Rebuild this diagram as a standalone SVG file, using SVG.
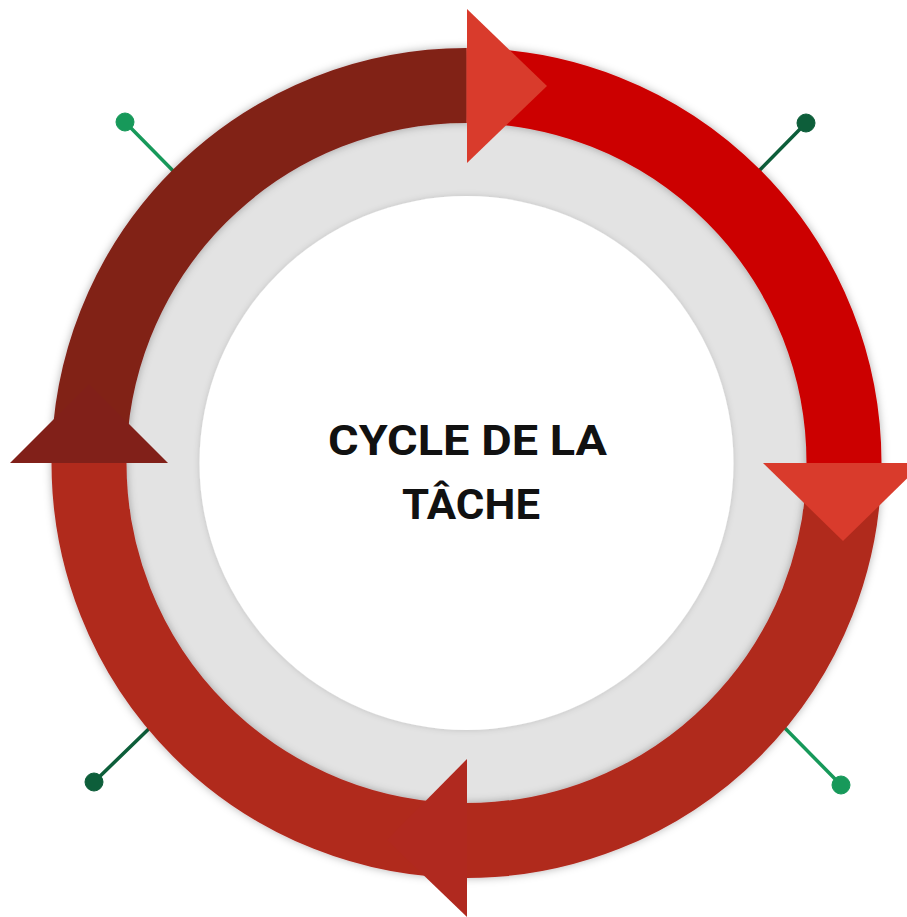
<svg xmlns="http://www.w3.org/2000/svg" width="907" height="917" viewBox="0 0 907 917">
<defs>
<filter id="sh" x="-20%" y="-20%" width="140%" height="140%">
<feDropShadow dx="0" dy="0" stdDeviation="4" flood-color="#000" flood-opacity="0.3"/>
</filter>
<filter id="sh2" x="-20%" y="-20%" width="140%" height="140%">
<feDropShadow dx="0" dy="0" stdDeviation="3" flood-color="#000" flood-opacity="0.15"/>
</filter>
<style>
.band{fill:none;stroke-width:75;stroke-linecap:butt}
.lnk{stroke-width:3.5;stroke-linecap:round}
.lite{stroke:#17995a;fill:#17995a}
.dark{stroke:#0d5e3a;fill:#0d5e3a}
.ttl{font-family:Roboto,"Liberation Sans",sans-serif;font-weight:bold;font-size:42px;fill:#111}
</style>
</defs>
<rect width="907" height="917" fill="#fff"/>
<g id="background">
<circle cx="466.5" cy="463" r="341" fill="#e3e3e3"/>
<circle cx="466.5" cy="463" r="267" fill="#fff" filter="url(#sh2)"/>
</g>
<g id="connectors">
<line class="lnk lite" x1="125" y1="122" x2="190" y2="188"/>
<circle class="lite" cx="125" cy="122" r="9"/>
<line class="lnk dark" x1="806" y1="123" x2="742" y2="188"/>
<circle class="dark" cx="806" cy="123" r="9"/>
<line class="lnk dark" x1="94" y1="782" x2="160" y2="718"/>
<circle class="dark" cx="94" cy="782" r="9"/>
<line class="lnk lite" x1="841" y1="785" x2="775" y2="718"/>
<circle class="lite" cx="841" cy="785" r="9"/>
</g>
<g id="ring" filter="url(#sh)">
<g id="seg-top-left"><path class="band" stroke="#812019" d="M 89 463 A 377.5 377.5 0 0 1 466.5 85.5"/></g>
<g id="seg-top-right"><path class="band" stroke="#cc0000" d="M 466.5 85.5 A 377.5 377.5 0 0 1 844 463"/></g>
<g id="seg-bottom-right"><path class="band" stroke="#b0291f" d="M 844 463 A 377.5 377.5 0 0 1 466.5 840.5"/></g>
<g id="seg-bottom-left"><path class="band" stroke="#b0291f" d="M 466.5 840.5 A 377.5 377.5 0 0 1 89 463"/></g>
</g>
<g id="arrows">
<polygon id="arrow-top" fill="#d93b2c" points="467,9 467,163 547,86"/>
<polygon id="arrow-right" fill="#d93b2c" points="763,463 923,463 843,541"/>
<polygon id="arrow-bottom" fill="#b0291f" points="467,759 467,917 387,840"/>
<polygon id="arrow-left" fill="#812019" points="10,463 168,463 89,384"/>
</g>
<g id="title">
<text class="ttl" x="328" y="455" textLength="279" lengthAdjust="spacingAndGlyphs">CYCLE DE LA</text>
<text class="ttl" x="402" y="519" textLength="138" lengthAdjust="spacingAndGlyphs">TÂCHE</text>
</g>
</svg>
